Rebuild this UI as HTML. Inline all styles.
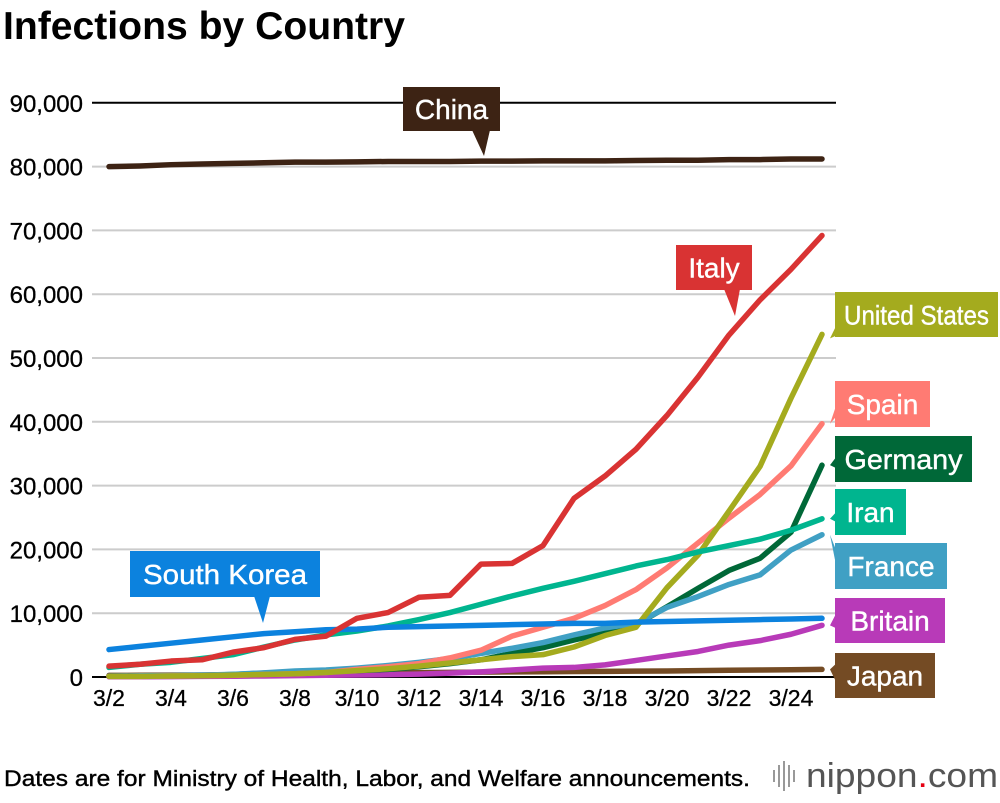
<!DOCTYPE html>
<html><head><meta charset="utf-8"><style>
body{margin:0;background:#fff;width:1000px;height:798px;overflow:hidden;font-family:"Liberation Sans",Arial,sans-serif}
</style></head><body>
<svg id="chart" width="1000" height="798" xmlns="http://www.w3.org/2000/svg" font-family="Liberation Sans, Arial, sans-serif">
<text x="3" y="39" font-size="39" font-weight="bold" fill="#000" textLength="402" lengthAdjust="spacingAndGlyphs">Infections by Country</text>
<g id="grid"></g><g id="series"></g><g id="labels"></g>
<text x="4" y="786" font-size="22" fill="#000" stroke="#000" stroke-width="0.4" textLength="746" lengthAdjust="spacingAndGlyphs">Dates are for Ministry of Health, Labor, and Welfare announcements.</text>
<g>
<rect x="773" y="770" width="2" height="12" fill="#999"/><rect x="778" y="765" width="2" height="22" fill="#999"/><rect x="783" y="761" width="2" height="30" fill="#999"/><rect x="788" y="765" width="2" height="22" fill="#999"/><rect x="793" y="770" width="2" height="12" fill="#999"/>
<text x="806" y="787" font-size="34" fill="#555" textLength="192" lengthAdjust="spacingAndGlyphs">nippon<tspan fill="#e60012">.</tspan>com</text>
</g>
</svg>
<script>
const dates=["3/2","3/3","3/4","3/5","3/6","3/7","3/8","3/9","3/10","3/11","3/12","3/13","3/14","3/15","3/16","3/17","3/18","3/19","3/20","3/21","3/22","3/23","3/24","3/25"];
const yTicks=[0,10000,20000,30000,40000,50000,60000,70000,80000,90000];
const china=[80.0,80.1,80.3,80.4,80.5,80.6,80.7,80.7,80.75,80.8,80.8,80.8,80.85,80.85,80.9,80.9,80.9,80.95,81.0,81.0,81.1,81.1,81.2,81.2];
const italy=[1.7,2.0,2.5,2.7,3.9,4.6,5.9,6.4,9.2,10.1,12.5,12.8,17.7,17.8,20.6,28,31.5,35.7,41,47,53.6,59.1,63.9,69.2];
const usa=[0.1,0.1,0.15,0.2,0.3,0.4,0.5,0.7,1.0,1.3,1.7,2.2,2.7,3.2,3.5,4.7,6.5,7.8,14,19.1,26,33,43.7,53.7];
const spain=[0.1,0.1,0.15,0.2,0.25,0.4,0.5,0.7,1.2,1.6,2.1,3.0,4.2,6.4,7.8,9.2,11.2,13.7,17.1,21.0,24.9,28.6,33.1,39.7];
const germany=[0.13,0.16,0.2,0.26,0.4,0.6,0.8,0.9,1.0,1.2,1.6,2.1,2.7,3.7,4.6,5.8,6.9,8.2,11,13.9,16.7,18.6,22.7,33.2];
const iran=[1.5,2.0,2.3,2.9,3.5,4.7,5.8,6.6,7.2,8.0,9.0,10.1,11.4,12.7,13.9,15.0,16.2,17.4,18.4,19.6,20.6,21.6,23.0,24.8];
const france=[0.13,0.19,0.21,0.29,0.42,0.65,0.95,1.1,1.4,1.8,2.3,2.9,3.7,4.5,5.4,6.6,7.7,8.4,10.9,12.6,14.5,16.0,19.9,22.3];
const britain=[0.04,0.04,0.05,0.09,0.12,0.16,0.21,0.27,0.32,0.37,0.46,0.6,0.8,1.1,1.4,1.5,1.9,2.6,3.3,4.0,5.0,5.7,6.7,8.1];
const japan=[0.25,0.27,0.29,0.31,0.35,0.42,0.5,0.53,0.58,0.64,0.68,0.72,0.77,0.81,0.83,0.86,0.88,0.92,0.95,1.0,1.05,1.09,1.13,1.19];
const korea=[4.3,4.8,5.3,5.8,6.3,6.8,7.1,7.4,7.5,7.8,7.9,8.0,8.1,8.2,8.3,8.4,8.4,8.6,8.7,8.8,8.9,9.0,9.1,9.2];

const NS="http://www.w3.org/2000/svg";
const X=i=>109+i*31;
const Y=v=>677-v*0.00638;
const Yk=v=>Y(v*1000);
function mk(t,a,p){const e=document.createElementNS(NS,t);for(const k in a)e.setAttribute(k,a[k]);p.appendChild(e);return e;}
const grid=document.getElementById('grid');
yTicks.forEach((t,i)=>{
  const l=mk('line',{x1:92,x2:836,y1:Y(t),y2:Y(t),stroke:(t===0||t===90000)?'#000':'#ccc','stroke-width':2},grid);
  
  
  const tx=mk('text',{x:83,y:Y(t)+9,'font-size':24,'text-anchor':'end',fill:'#000',stroke:'#000','stroke-width':0.3},grid);
  tx.textContent=t.toLocaleString('en-US');
  
  
});
dates.forEach((d,i)=>{
  if(i%2)return;
  const tx=mk('text',{x:X(i),y:706,'font-size':23,'text-anchor':'middle',fill:'#000',stroke:'#000','stroke-width':0.3},grid);
  tx.textContent=d;
  
  
});
const ser=document.getElementById('series');
const S=[["japan",japan,"#744b24"],["britain",britain,"#b83ab8"],["germany",germany,"#006838"],["france",france,"#40a0c4"],["spain",spain,"#ff7b73"],["usa",usa,"#a4ab1e"],["iran",iran,"#00b58f"],["south-korea",korea,"#0c82de"],["italy",italy,"#d93333"],["china",china,"#3d2314"]];
S.forEach(([n,d,c])=>{
  const p=mk('polyline',{points:d.map((v,i)=>X(i)+','+Yk(v)).join(' '),fill:'none',stroke:c,'stroke-width':5.5,'stroke-linejoin':'round','stroke-linecap':'round'},ser);
  
  
});
const lab=document.getElementById('labels');
function box(name,text,x,y,w,h,c,ptr,fs,tl){
  const g=mk('g',{},lab);
  
  
  mk('polygon',{points:ptr,fill:c},g);
  mk('rect',{x:x,y:y,width:w,height:h,fill:c},g);
  const a={x:x+w/2,y:y+h/2+10,'font-size':fs||28,'text-anchor':'middle',fill:'#fff',stroke:'#fff','stroke-width':0.4};
  if(tl){a.textLength=tl;a.lengthAdjust='spacingAndGlyphs';}
  const t=mk('text',a,g);
  t.textContent=text;
}
const last=dates.length-1, ex=X(last)+8;
box('china','China',403,87,97,44,'#3d2314','472,130 490,130 484,156');
box('italy','Italy',676,245,76,45,'#d93333','724,289 740,289 735,316');
box('south-korea','South Korea',130,551,190,46,'#0c82de','254,596 270,596 263,623',28,164);
box('usa','United States',835,292,163,45,'#a4ab1e',`${ex},${Yk(usa[last])+4} 840,318 840,334`,27,145);
box('spain','Spain',835,381,95,46,'#ff7b73',`${ex},${Yk(spain[last])} 840,394 840,412`);
box('germany','Germany',835,436,137,46,'#006838',`${ex},${Yk(germany[last])} 840,452 840,470`,28,118);
box('iran','Iran',835,489,71,46,'#00b58f',`${ex},${Yk(iran[last])} 840,508 840,524`);
box('france','France',835,543,112,46,'#40a0c4',`${ex},${Yk(france[last])} 840,560 840,585`);
box('britain','Britain',835,598,110,45,'#b83ab8',`${ex},${Yk(britain[last])} 840,606 840,630`);
box('japan','Japan',835,653,100,45,'#744b24',`${ex},${Yk(japan[last])} 840,660 840,690`);
</script>
</body></html>
